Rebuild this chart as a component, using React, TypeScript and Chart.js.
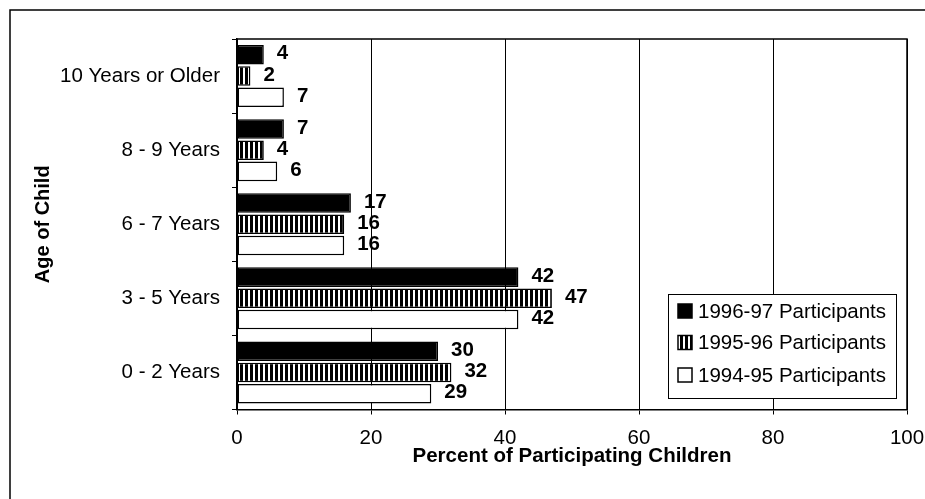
import React, { useEffect, useRef } from "react";
import { Chart, registerables } from "chart.js";

Chart.register(...registerables);

const categories = ["10 Years or Older", "8 - 9 Years", "6 - 7 Years", "3 - 5 Years", "0 - 2 Years"];
const seriesNames = ["1996-97 Participants", "1995-96 Participants", "1994-95 Participants"];
const values9697 = [4, 7, 17, 42, 30];
const values9596 = [2, 4, 16, 47, 32];
const values9495 = [7, 6, 16, 42, 29];
const xMin = 0;
const xMax = 100;
const xStep = 20;
const xTitle = "Percent of Participating Children";
const yTitle = "Age of Child";

const FONT = "'Liberation Sans', Arial, Helvetica, sans-serif";
const TEXT_SIZE = 20.5;

function makeStripe(): CanvasPattern | string {
  const c = document.createElement("canvas");
  c.width = 5;
  c.height = 5;
  const g = c.getContext("2d");
  if (!g) return "#555";
  g.fillStyle = "#ffffff";
  g.fillRect(0, 0, 5, 5);
  g.fillStyle = "#000000";
  g.fillRect(0, 0, 3, 5);
  const p = g.createPattern(c, "repeat");
  return p || "#555";
}

export default function App() {
  const ref = useRef<HTMLCanvasElement | null>(null);

  useEffect(() => {
    const canvas = ref.current;
    if (!canvas) return;
    const stripe = makeStripe();
    const fills: any[] = ["#000000", stripe, "#ffffff"];

    const frame = {
      id: "frame",
      afterDraw(chart: any) {
        const ctx = chart.ctx;
        const a = chart.chartArea;
        ctx.save();
        // outer box
        ctx.strokeStyle = "#000";
        ctx.lineWidth = 1.5;
        ctx.beginPath();
        ctx.moveTo(10, 499);
        ctx.lineTo(10, 10);
        ctx.lineTo(925, 10);
        ctx.stroke();
        // plot top/right border
        ctx.beginPath();
        ctx.moveTo(a.left, a.top);
        ctx.lineTo(a.right, a.top);
        ctx.lineTo(a.right, a.bottom);
        ctx.stroke();

        // legend
        const lw = 228, lh = 104;
        const lx = a.right - 11 - lw;
        const ly = a.bottom - 11.5 - lh;
        ctx.fillStyle = "#fff";
        ctx.fillRect(lx, ly, lw, lh);
        ctx.lineWidth = 1;
        ctx.strokeStyle = "#000";
        ctx.strokeRect(lx + 0.5, ly + 0.5, lw, lh);
        ctx.font = `${TEXT_SIZE}px ${FONT}`;
        ctx.textBaseline = "middle";
        ctx.textAlign = "left";
        const rows = [17, 48.5, 81];
        seriesNames.forEach((name, i) => {
          const cy = ly + rows[i];
          const sx = lx + 10, sy = cy - 7;
          ctx.fillStyle = fills[i];
          ctx.fillRect(sx, sy, 14, 14);
          ctx.lineWidth = 1.5;
          ctx.strokeStyle = "#000";
          ctx.strokeRect(sx, sy, 14, 14);
          ctx.fillStyle = "#000";
          ctx.fillText(name, lx + 30, cy + 1);
        });
        ctx.restore();
      },
    };

    const valueLabels = {
      id: "valueLabels",
      afterDatasetsDraw(chart: any) {
        const ctx = chart.ctx;
        ctx.save();
        ctx.font = `bold 20.5px ${FONT}`;
        ctx.fillStyle = "#000";
        ctx.textBaseline = "middle";
        ctx.textAlign = "left";
        chart.data.datasets.forEach((ds: any, di: number) => {
          const meta = chart.getDatasetMeta(di);
          meta.data.forEach((el: any, i: number) => {
            ctx.fillText(String(ds.data[i]), el.x + 13, el.y - 1);
          });
        });
        ctx.restore();
      },
    };

    const chart = new Chart(canvas, {
      type: "bar",
      data: {
        labels: categories,
        datasets: [
          { label: seriesNames[0], data: values9697, backgroundColor: fills[0], borderColor: "#000", borderWidth: 1.5, borderSkipped: false },
          { label: seriesNames[1], data: values9596, backgroundColor: fills[1], borderColor: "#000", borderWidth: 1.5, borderSkipped: false },
          { label: seriesNames[2], data: values9495, backgroundColor: fills[2], borderColor: "#000", borderWidth: 1.5, borderSkipped: false },
        ],
      },
      options: {
        indexAxis: "y",
        responsive: false,
        animation: false,
        devicePixelRatio: 1,
        categoryPercentage: 0.86,
        barPercentage: 0.92,
        layout: { padding: { top: 39, right: 18, left: 0, bottom: 0 } },
        plugins: { legend: { display: false }, tooltip: { enabled: false } },
        scales: {
          x: {
            type: "linear",
            min: xMin,
            max: xMax,
            ticks: { stepSize: xStep, color: "#000", font: { family: FONT, size: TEXT_SIZE }, padding: 12 },
            grid: { color: "#000", lineWidth: 1, tickLength: 5, drawTicks: true },
            border: { display: true, color: "#000", width: 1.5 },
            title: { display: true, text: xTitle, color: "#000", font: { family: FONT, size: 20.5, weight: "bold" }, padding: { top: 0, bottom: 30 } },
            afterFit(scale: any) {
              scale.height = 89.5;
              scale.paddingLeft = 0;
              scale.paddingRight = 0;
            },
          },
          y: {
            type: "category",
            ticks: { color: "#000", font: { family: FONT, size: TEXT_SIZE }, padding: 12 },
            grid: { display: true, drawOnChartArea: false, color: "#000", lineWidth: 1, tickLength: 5, offset: true },
            border: { display: true, color: "#000", width: 1.5 },
            title: { display: true, text: yTitle, color: "#000", font: { family: FONT, size: 20, weight: "bold" }, padding: { top: 31, bottom: 0 } },
            afterFit(scale: any) {
              scale.width = 237;
              scale.paddingTop = 0;
              scale.paddingBottom = 0;
            },
          },
        },
      },
      plugins: [valueLabels, frame],
    } as any);

    return () => chart.destroy();
  }, []);

  return (
    <div style={{ position: "fixed", left: 0, top: 0, width: 925, height: 499, background: "#fff" }}>
      <canvas ref={ref} width={925} height={499} style={{ width: 925, height: 499, display: "block" }} />
    </div>
  );
}
